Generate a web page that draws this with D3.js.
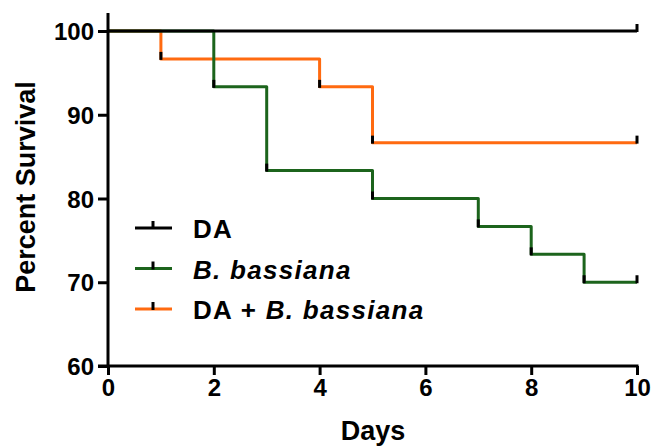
<!DOCTYPE html>
<html>
<head>
<meta charset="utf-8">
<script src="https://cdn.jsdelivr.net/npm/d3@7"></script>
<style>
  body { margin: 0; background: #fff; }
  text { font-family: "Liberation Sans", Arial, sans-serif; font-weight: bold; }
</style>
</head>
<body>
<script>
// survival data
var daDays = [0, 10];
var daSurv = [100, 100];
var bbDays = [0, 2, 3, 5, 7, 8, 9, 10];
var bbSurv = [100, 93.33, 83.33, 80, 76.67, 73.33, 70, 70];
var mixDays = [0, 1, 4, 5, 10];
var mixSurv = [100, 96.67, 93.33, 86.67, 86.67];
var xTicks = [0, 2, 4, 6, 8, 10];
var yTicks = [60, 70, 80, 90, 100];
var names = ["DA", "B. bassiana", "DA + B. bassiana"];
var colors = ["#000000", "#1c641c", "#ff6a10"];

var svg = d3.select("body").append("svg")
    .attr("width", 654)
    .attr("height", 447);

var x = d3.scaleLinear().domain([0, 10]).range([108, 637]);
var y = d3.scaleLinear().domain([60, 100]).range([366, 31]);

function pts(ds, ss) { return ds.map(function(d, i) { return [d, ss[i]]; }); }
var series = [
  {name: names[0], color: colors[0], data: pts(daDays, daSurv)},
  {name: names[1], color: colors[1], data: pts(bbDays, bbSurv)},
  {name: names[2], color: colors[2], data: pts(mixDays, mixSurv)}
];

var line = d3.line()
    .x(function(d) { return x(d[0]); })
    .y(function(d) { return y(d[1]); })
    .curve(d3.curveStepAfter);

// orange first, then green, then black on top
[2, 1, 0].forEach(function(k) {
  var s = series[k];
  svg.append("path")
    .attr("d", line(s.data))
    .attr("fill", "none")
    .attr("stroke", s.color)
    .attr("stroke-width", 3)
    .attr("stroke-linejoin", "round");
  // tick symbols at each point (skip start)
  svg.selectAll(null)
    .data(s.data.slice(1))
    .enter().append("line")
    .attr("x1", function(d) { return x(d[0]); })
    .attr("x2", function(d) { return x(d[0]); })
    .attr("y1", function(d) { return y(d[1]) + 1; })
    .attr("y2", function(d) { return y(d[1]) - 7; })
    .attr("stroke", "#000")
    .attr("stroke-width", 3);
});

// axes
var yAxis = svg.append("g")
    .attr("transform", "translate(108,0)")
    .call(d3.axisLeft(y).tickValues(yTicks).tickSize(10).tickSizeOuter(0).tickPadding(4));
var xAxis = svg.append("g")
    .attr("transform", "translate(0,366)")
    .call(d3.axisBottom(x).tickValues(xTicks).tickSize(9).tickSizeOuter(0).tickPadding(4));

[yAxis, xAxis].forEach(function(a) {
  a.select(".domain").remove();
  a.selectAll("line").attr("stroke", "#000").attr("stroke-width", 3);
  a.selectAll("text")
    .attr("font-size", "24px")
    .attr("fill", "#000")
    .attr("font-family", "Liberation Sans, Arial, sans-serif")
    .attr("font-weight", "bold");
});
yAxis.selectAll("text").attr("dy", "0.36em");

svg.append("line")
    .attr("x1", 108).attr("x2", 108)
    .attr("y1", y(60) + 1.5).attr("y2", y(100) - 18)
    .attr("stroke", "#000").attr("stroke-width", 3);
svg.append("line")
    .attr("x1", 98).attr("x2", x(10) + 1.5)
    .attr("y1", 366).attr("y2", 366)
    .attr("stroke", "#000").attr("stroke-width", 3);

// axis titles
svg.append("text")
    .attr("transform", "translate(35,187) rotate(-90)")
    .attr("text-anchor", "middle")
    .attr("font-size", "27px")
    .text("Percent Survival");
svg.append("text")
    .attr("x", 373)
    .attr("y", 440)
    .attr("text-anchor", "middle")
    .attr("font-size", "27px")
    .text("Days");

// legend
var legend = svg.append("g").attr("transform", "translate(135,228)");
series.forEach(function(s, i) {
  var g = legend.append("g").attr("transform", "translate(0," + (i * 40.5) + ")");
  g.append("line").attr("x1", 0).attr("x2", 37).attr("y1", 0).attr("y2", 0)
    .attr("stroke", s.color).attr("stroke-width", 3);
  g.append("line").attr("x1", 18).attr("x2", 18).attr("y1", 1).attr("y2", -7)
    .attr("stroke", "#000").attr("stroke-width", 3);
  var t = g.append("text").attr("x", 58).attr("y", 10)
    .attr("font-size", "26px").attr("letter-spacing", "1.3px");
  if (i === 0) t.text("DA");
  else if (i === 1) t.append("tspan").attr("font-style", "italic").text("B. bassiana");
  else {
    t.append("tspan").text("DA + ");
    t.append("tspan").attr("font-style", "italic").text("B. bassiana");
  }
});
</script>
</body>
</html>
